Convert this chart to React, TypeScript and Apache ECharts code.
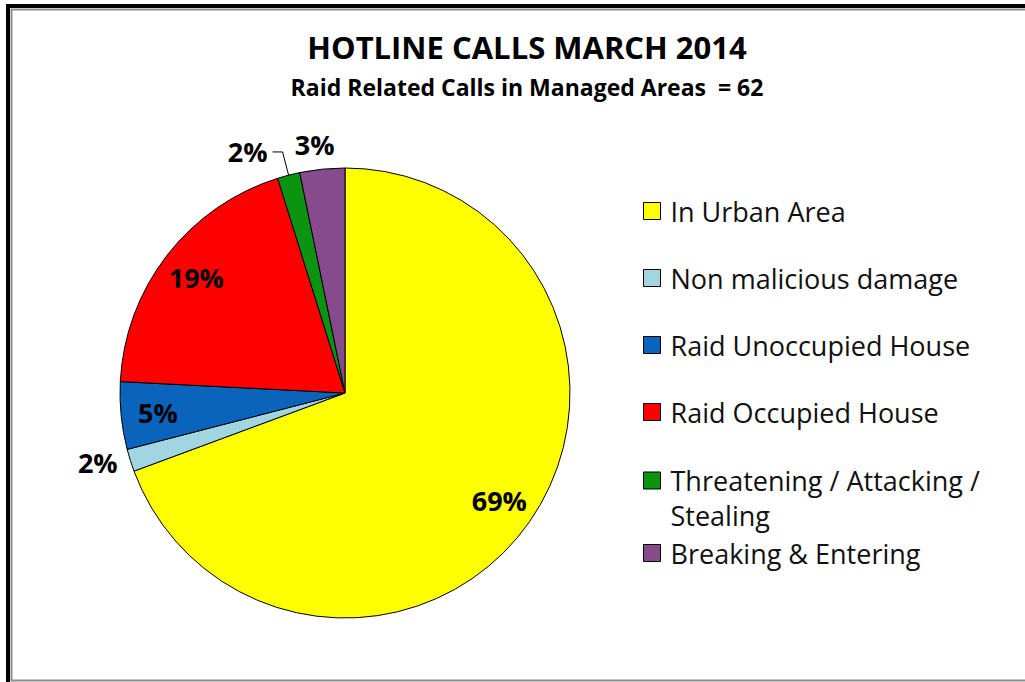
import React, { useEffect, useRef } from "react";
import * as echarts from "echarts";

const categories = [
  "In Urban Area",
  "Non malicious damage",
  "Raid Unoccupied House",
  "Raid Occupied House",
  "Threatening / Attacking / Stealing",
  "Breaking & Entering",
];
const calls = [43, 1, 3, 12, 1, 2];
const colors = ["#FFFF00", "#A2D5E2", "#0B64BC", "#FF0000", "#0C930F", "#874A8C"];
const insideLabelIdx = [0, 2, 3];
const outsideLabelIdx = [1, 4, 5];
const titleText = "HOTLINE CALLS MARCH 2014";
const subText = "Raid Related Calls in Managed Areas  = 62";

const FONT = "'Open Sans', 'Noto Sans', sans-serif";

export default function App() {
  const ref = useRef<HTMLDivElement>(null);
  useEffect(() => {
    if (!ref.current) return;
    const chart = echarts.init(ref.current, null, { renderer: "svg" });
    const labelStyle = {
      fontFamily: FONT,
      fontWeight: "bold" as const,
      fontSize: 27,
      color: "#000",
      formatter: "{d}%",
    };
    const lineLens: Record<number, [number, number]> = { 1: [8, 0], 4: [24, 10], 5: [25, 0] };
    const mainData = categories.map((name, i) => ({
      name,
      value: calls[i],
      itemStyle: { color: colors[i] },
      label: outsideLabelIdx.includes(i)
        ? { show: true, position: "outside", ...labelStyle }
        : { show: false },
      labelLine: {
        show: i === 4,
        length: (lineLens[i] || [6, 0])[0],
        length2: (lineLens[i] || [6, 0])[1],
        lineStyle: { color: "#000", width: 1 },
      },
    }));
    const overlayData = categories.map((name, i) => ({
      name,
      value: calls[i],
      label: insideLabelIdx.includes(i)
        ? { show: true, position: "inside", ...labelStyle }
        : { show: false },
    }));
    const legendBase = {
      orient: "vertical",
      left: 643,
      padding: 0,
      itemWidth: 17,
      itemHeight: 17,
      icon: "rect",
      selectedMode: false,
      itemStyle: { borderColor: "#000", borderWidth: 1 },
    };
    const legendText = {
      fontFamily: FONT,
      fontSize: 27,
      color: "#111",
      lineHeight: 30,
      padding: [0, 0, 0, 5],
    };
    chart.setOption({
      animation: false,
      backgroundColor: "#fff",
      title: {
        text: titleText,
        subtext: subText,
        left: 522,
        textAlign: "center",
        top: 23,
        itemGap: 7,
        textStyle: { fontFamily: FONT, fontWeight: "bold", fontSize: 31, lineHeight: 38, color: "#000" },
        subtextStyle: { fontFamily: FONT, fontWeight: "bold", fontSize: 23, lineHeight: 28, color: "#000" },
      },
      legend: [
        {
          ...legendBase,
          top: 196,
          itemGap: 37,
          data: categories.slice(0, 4),
          textStyle: legendText,
        },
        {
          ...legendBase,
          top: 428,
          data: [categories[4]],
          formatter: (n: string) => "\n" + n.replace("Attacking / ", "Attacking /\n"),
          textStyle: { ...legendText, lineHeight: 35 },
        },
        {
          ...legendBase,
          top: 538,
          data: [categories[5]],
          textStyle: legendText,
        },
      ],
      graphic: [
        {
          type: "rect",
          silent: true,
          z: 100,
          shape: { x: 8, y: 6, width: 1040, height: 700 },
          style: { fill: "none", stroke: "#000", lineWidth: 4 },
        },
        {
          type: "rect",
          silent: true,
          z: 100,
          shape: { x: 11.5, y: 9.5, width: 1040, height: 671 },
          style: { fill: "none", stroke: "#8c8c8c", lineWidth: 2 },
        },
      ],
      series: [
        {
          type: "pie",
          name: "calls",
          center: [345, 393],
          radius: 225,
          startAngle: 90,
          clockwise: true,
          avoidLabelOverlap: false,
          percentPrecision: 0,
          itemStyle: { borderColor: "#000", borderWidth: 1 },
          emphasis: { disabled: true },
          label: { show: false },
          labelLayout: (p: any) => (p.dataIndex === 5 ? { align: "center" } : {}),
          data: mainData,
        },
        {
          type: "pie",
          name: "labels",
          center: [345, 393],
          radius: [145, 225],
          startAngle: 90,
          clockwise: true,
          silent: true,
          avoidLabelOverlap: false,
          percentPrecision: 0,
          itemStyle: { color: "rgba(0,0,0,0)", borderWidth: 0 },
          emphasis: { disabled: true },
          labelLine: { show: false },
          data: overlayData,
        },
      ],
    });
    return () => chart.dispose();
  }, []);
  return (
    <div
      ref={ref}
      style={{ position: "fixed", left: 0, top: 0, width: 1025, height: 682 }}
    />
  );
}
